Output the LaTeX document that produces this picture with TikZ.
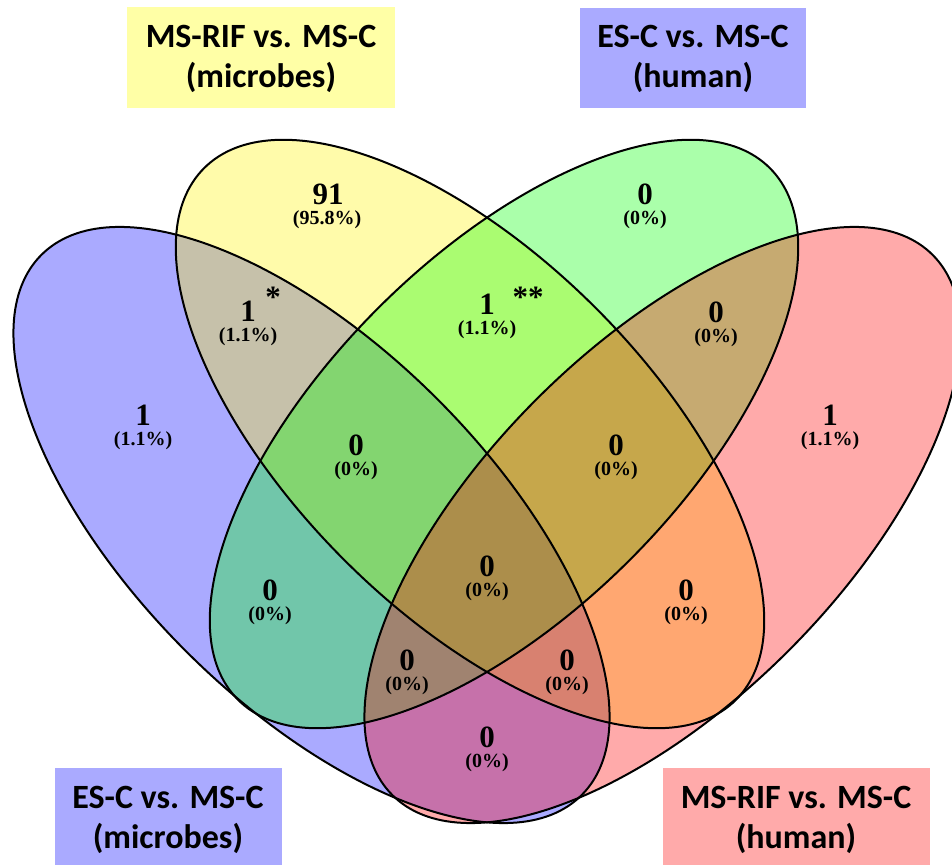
\documentclass[tikz,border=0pt]{standalone}
\usepackage{fontspec}
\setmainfont{Liberation Serif}
\newfontfamily\boxfont{Carlito}
\definecolor{boxyellow}{RGB}{255,255,166}
\definecolor{boxblue}{RGB}{170,170,255}
\definecolor{boxred}{RGB}{255,170,170}
\begin{document}
\begin{tikzpicture}[x=1pt,y=1pt,
	count/.style={font=\fontsize{31}{31}\selectfont\bfseries,inner sep=0pt},
	pct/.style={font=\fontsize{20}{20}\selectfont\bfseries,inner sep=0pt},
	setlabel/.style={font=\boxfont\fontsize{34}{40}\selectfont\bfseries,align=center,inner sep=0pt},
	venn/.style={fill opacity=1/3}]
	\useasboundingbox (0,0) rectangle (952,865);
	% ellipse centres
	\coordinate (cB) at (311.5,340);
	\coordinate (cY) at (470,431);
	\coordinate (cG) at (504,431);
	\coordinate (cR) at (662.5,340);
	% fills
	\fill[venn,blue,rotate around={-45:(cB)}] (cB) ellipse [x radius=382,y radius=178];
	\fill[venn,yellow,rotate around={-45:(cY)}] (cY) ellipse [x radius=376,y radius=178];
	\fill[venn,green,rotate around={45:(cG)}] (cG) ellipse [x radius=376,y radius=178];
	\fill[venn,red,rotate around={45:(cR)}] (cR) ellipse [x radius=382,y radius=178];
	% outlines
	\draw[line width=2,rotate around={-45:(cB)}] (cB) ellipse [x radius=382,y radius=178];
	\draw[line width=2,rotate around={-45:(cY)}] (cY) ellipse [x radius=376,y radius=178];
	\draw[line width=2,rotate around={45:(cG)}] (cG) ellipse [x radius=376,y radius=178];
	\draw[line width=2,rotate around={45:(cR)}] (cR) ellipse [x radius=382,y radius=178];

	% counts
	\node[count] (nY) at (328,671) {91};
	\node[pct] (pY) at (327,645) {(95.8\%)};
	\node[count] (nG) at (645,671) {0};
	\node[pct] (pG) at (645,645) {(0\%)};
	\node[count] (nBY) at (248,554) {1};
	\node[pct] (pBY) at (248,528) {(1.1\%)};
	\node[count] (sBY) at (273,568) {*};
	\node[count] (nYG) at (487,561) {1};
	\node[pct] (pYG) at (487,535) {(1.1\%)};
	\node[count] (sYG) at (528,568) {**};
	\node[count] (nGR) at (716,553) {0};
	\node[pct] (pGR) at (716,527) {(0\%)};
	\node[count] (nB) at (143,450) {1};
	\node[pct] (pB) at (143,424) {(1.1\%)};
	\node[count] (nR) at (830,450) {1};
	\node[pct] (pR) at (830,424) {(1.1\%)};
	\node[count] (nBYG) at (356,420) {0};
	\node[pct] (pBYG) at (356,394) {(0\%)};
	\node[count] (nYGR) at (616,420) {0};
	\node[pct] (pYGR) at (616,394) {(0\%)};
	\node[count] (nAll) at (487,299) {0};
	\node[pct] (pAll) at (487,273) {(0\%)};
	\node[count] (nBG) at (270,275) {0};
	\node[pct] (pBG) at (270,249) {(0\%)};
	\node[count] (nYR) at (686,275) {0};
	\node[pct] (pYR) at (686,249) {(0\%)};
	\node[count] (nBGR) at (407,205) {0};
	\node[pct] (pBGR) at (407,179) {(0\%)};
	\node[count] (nBYR) at (567,205) {0};
	\node[pct] (pBYR) at (567,179) {(0\%)};
	\node[count] (nBR) at (487,128) {0};
	\node[pct] (pBR) at (487,102) {(0\%)};

	% set labels
	\fill[boxyellow] (127,858) rectangle (395,757);
	\node[setlabel] (lY) at (261,806) {MS-RIF vs. MS-C\\(microbes)};
	\fill[boxblue] (580,857) rectangle (806,757);
	\node[setlabel] (lG) at (693,806) {ES-C vs. MS-C\\(human)};
	\fill[boxblue] (55,97) rectangle (282,0);
	\node[setlabel] (lB) at (168,45) {ES-C vs. MS-C\\(microbes)};
	\fill[boxred] (663,97) rectangle (930,0);
	\node[setlabel] (lR) at (796,45) {MS-RIF vs. MS-C\\(human)};
\end{tikzpicture}
\end{document}
